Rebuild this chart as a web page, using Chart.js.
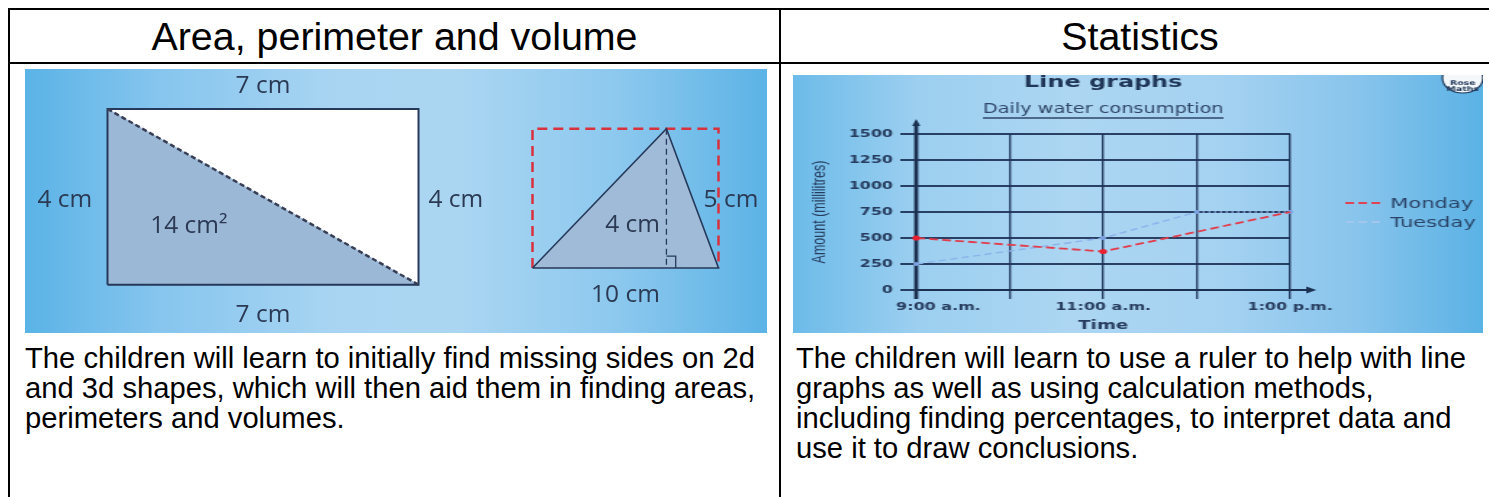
<!DOCTYPE html>
<html>
<head>
  <title>Area, perimeter and volume / Statistics</title>
  <meta charset="UTF-8">
  <script src="https://cdn.jsdelivr.net/npm/chart.js"></script>
  <style>
    body {
      margin: 0;
      width: 1489px;
      height: 497px;
      overflow: hidden;
      position: relative;
      background: #fff;
      font-family: "Liberation Sans", Arial, sans-serif;
      color: #000;
    }
    .rule { position: absolute; background: #000; }
    .head {
      position: absolute;
      top: 10px;
      height: 52px;
      line-height: 52px;
      font-size: 39.4px;
      text-align: center;
      white-space: nowrap;
    }
    .text {
      position: absolute;
      top: 342.5px;
      font-size: 29.2px;
      line-height: 30px;
      white-space: nowrap;
    }
    #pic1 {
      position: absolute; left: 25px; top: 69px; width: 742px; height: 264px;
      background: linear-gradient(90deg, #5ab3e6 0%, #86c5ee 18%, #a9d5f2 42%, #abd6f2 58%, #8cc8ee 80%, #5cb3e6 100%);
    }
    #pic2 {
      position: absolute; left: 793px; top: 75px; width: 690px; height: 258px;
      background: linear-gradient(90deg, #6cbbe9 0%, #9ccff0 18%, #acd6f2 40%, #a5d2f1 62%, #88c4ec 82%, #5ab2e5 100%);
    }
  </style>
</head>
<body>

  <div class="rule" style="left:8px;top:8px;width:1481px;height:2px"></div>
  <div class="rule" style="left:8px;top:62px;width:1481px;height:2px"></div>
  <div class="rule" style="left:8px;top:8px;width:2px;height:489px"></div>
  <div class="rule" style="left:779px;top:8px;width:2px;height:489px"></div>

  <div class="head" style="left:10px;width:769px">Area, perimeter and volume</div>
  <div class="head" style="left:781px;width:718px">Statistics</div>

  <div id="pic1"><canvas id="shapes" width="742" height="264" style="width:742px;height:264px"></canvas></div>
  <div id="pic2"><canvas id="grafik" width="476" height="258" style="width:690px;height:258px"></canvas></div>

  <div class="text" style="left:25px">The children will learn to initially find missing sides on 2d<br>and 3d shapes, which will then aid them in finding areas,<br>perimeters and volumes.</div>
  <div class="text" style="left:796px">The children will learn to use a ruler to help with line<br>graphs as well as using calculation methods,<br>including finding percentages, to interpret data and<br>use it to draw conclusions.</div>

  <script>
    // line graph: daily water consumption (ml)
    const times = ['9:00 a.m.', '10:00 a.m.', '11:00 a.m.', '12:00 p.m.', '1:00 p.m.'];
    const timeTicks = ['9:00 a.m.', '', '11:00 a.m.', '', '1:00 p.m.'];
    const monday = [500, null, 370, null, 750];
    const tuesday = [250, null, 500, 750, 750];
    const amountTicks = [0, 250, 500, 750, 1000, 1250, 1500];

    // shapes, sizes in cm
    const rectSides = [7, 4];       // width, height
    const triSides = [10, 4];       // base, height
    const apexAt = 7.2;             // foot of the height, from the left corner
    const rectLabels = ['7 cm', '7 cm', '4 cm', '4 cm', '14 cm²'];
    const triLabels = ['10 cm', '4 cm', '5 cm'];

    const navy = '#26395a';
    const ink = '#273c5e';

    // ---------- shapes picture ----------
    const W1 = 742, H1 = 264;
    // put value 0 at a given pixel, with a given number of px per cm
    const placeX = (origin, ppc) => ({ min: -origin / ppc, max: (W1 - origin) / ppc });
    const placeY = (origin, ppc) => ({ min: (origin - H1) / ppc, max: origin / ppc });

    const [rw, rh] = rectSides;
    const [tb, th] = triSides;
    const pts = arr => arr.map(p => ({ x: p[0], y: p[1] }));
    const onRect = { xAxisID: 'xr', yAxisID: 'yr', showLine: true };
    const onTri = { xAxisID: 'xt', yAxisID: 'yt', showLine: true };

    const shapeLabels = {
      id: 'shapeLabels',
      afterDatasetsDraw(chart) {
        const { ctx, scales } = chart;
        const spots = [
          [rectLabels[0], 'r', rw / 2, rh + 0.52],
          [rectLabels[1], 'r', rw / 2, -0.69],
          [rectLabels[2], 'r', -0.96, rh / 2 - 0.07],
          [rectLabels[3], 'r', rw + 0.84, rh / 2 - 0.07],
          [rectLabels[4], 'r', 1.83, 1.33],
          [triLabels[0], 't', tb / 2, -0.77],
          [triLabels[1], 't', apexAt - 1.82, 1.24],
          [triLabels[2], 't', tb + 0.67, th / 2 - 0.04]
        ];
        ctx.save();
        ctx.font = '24.5px "Open Sans"';
        ctx.fillStyle = '#2b3953';
        ctx.textAlign = 'center';
        ctx.textBaseline = 'middle';
        spots.forEach(s => {
          const x = scales['x' + s[1]].getPixelForValue(s[2]);
          const y = scales['y' + s[1]].getPixelForValue(s[3]);
          ctx.fillText(s[0], x, y);
        });
        ctx.restore();
      }
    };

    new Chart(document.getElementById('shapes'), {
      type: 'scatter',
      data: {
        datasets: [
          { ...onRect, data: pts([[0, rh], [rw, 0]]), borderColor: '#383f55', borderWidth: 2.5, borderDash: [5, 3], order: 0 },
          { ...onRect, data: pts([[0, 0], [rw, 0], [rw, rh], [0, rh], [0, 0]]), borderColor: navy, borderWidth: 2, order: 1 },
          { ...onRect, data: pts([[0, rh], [0, 0], [rw, 0], [0, rh]]), fill: 'shape', backgroundColor: '#9cb8d7', borderColor: '#9cb8d7', borderWidth: 1, order: 3 },
          { ...onRect, data: pts([[0, rh], [rw, rh], [rw, 0], [0, rh]]), fill: 'shape', backgroundColor: '#ffffff', borderColor: '#ffffff', borderWidth: 1, order: 3 },

          { ...onTri, data: pts([[apexAt, th], [apexAt, 0]]), borderColor: navy, borderWidth: 1.3, borderDash: [6, 4], order: 0 },
          { ...onTri, data: pts([[apexAt, 0.34], [apexAt + 0.5, 0.34], [apexAt + 0.5, 0]]), borderColor: navy, borderWidth: 1.3, order: 0 },
          { ...onTri, data: pts([[0, 0], [apexAt, th], [tb, 0], [0, 0]]), fill: 'shape', backgroundColor: '#a0bbd8', borderColor: navy, borderWidth: 1.6, order: 1 },
          { ...onTri, data: pts([[0, 0], [0, th], [tb, th], [tb, 0]]), borderColor: '#d8323f', borderWidth: 2.5, borderDash: [10, 6], order: 2 }
        ]
      },
      options: {
        responsive: false,
        animation: false,
        events: [],
        layout: { padding: 0 },
        elements: { point: { radius: 0 } },
        plugins: { legend: { display: false }, tooltip: { enabled: false } },
        scales: {
          xr: { type: 'linear', position: 'bottom', display: false, ...placeX(82.5, 44.43) },
          yr: { type: 'linear', position: 'left', display: false, ...placeY(215.7, 43.93) },
          xt: { type: 'linear', position: 'bottom', display: false, ...placeX(507.5, 18.6) },
          yt: { type: 'linear', position: 'left', display: false, ...placeY(199, 34.8) }
        }
      },
      plugins: [shapeLabels]
    });

    // ---------- line graph picture (drawn narrow, shown stretched) ----------
    const gridNavy = 'rgba(28, 48, 84, 0.9)';

    const graphDecor = {
      id: 'graphDecor',
      beforeDatasetsDraw(chart) {
        const { ctx, chartArea: a } = chart;
        ctx.save();
        ctx.strokeStyle = ctx.fillStyle = '#1c3052';
        // y axis with arrow
        ctx.lineWidth = 2.8;
        ctx.beginPath();
        ctx.moveTo(a.left, a.bottom + 9);
        ctx.lineTo(a.left, a.top - 9);
        ctx.stroke();
        ctx.beginPath();
        ctx.moveTo(a.left, a.top - 15);
        ctx.lineTo(a.left - 2.8, a.top - 8);
        ctx.lineTo(a.left + 2.8, a.top - 8);
        ctx.fill();
        // x axis with arrow
        ctx.lineWidth = 2;
        ctx.beginPath();
        ctx.moveTo(a.left, a.bottom);
        ctx.lineTo(a.right + 12, a.bottom);
        ctx.stroke();
        ctx.beginPath();
        ctx.moveTo(a.right + 18, a.bottom);
        ctx.lineTo(a.right + 11, a.bottom - 3.5);
        ctx.lineTo(a.right + 11, a.bottom + 3.5);
        ctx.fill();
        ctx.restore();
      },
      afterDraw(chart) {
        const { ctx, chartArea: a } = chart;
        const mid = (a.left + a.right) / 2;
        ctx.save();
        ctx.textAlign = 'center';
        ctx.textBaseline = 'middle';
        ctx.fillStyle = '#1f3658';
        ctx.font = 'bold 16.5px "DejaVu Sans"';
        ctx.fillText('Line graphs', mid, 8);
        ctx.fillStyle = '#2f4668';
        ctx.font = '13.3px "DejaVu Sans"';
        ctx.fillText('Daily water consumption', mid, 35);
        const w = ctx.measureText('Daily water consumption').width;
        ctx.strokeStyle = '#2f4668';
        ctx.lineWidth = 1.5;
        ctx.beginPath();
        ctx.moveTo(mid - w / 2, 43);
        ctx.lineTo(mid + w / 2, 43);
        ctx.stroke();

        // legend
        ctx.textAlign = 'left';
        ctx.font = '14.5px "DejaVu Sans"';
        chart.data.datasets.forEach((ds, i) => {
          const y = a.top + 69 + i * 19;
          ctx.strokeStyle = i === 0 ? '#e04452' : '#a3c6ec';
          ctx.lineWidth = 1.8;
          ctx.setLineDash([6, 3]);
          ctx.beginPath();
          ctx.moveTo(a.right + 38, y);
          ctx.lineTo(a.right + 63, y);
          ctx.stroke();
          ctx.setLineDash([]);
          ctx.fillStyle = '#2b4467';
          ctx.fillText(ds.label, a.right + 69, y + 1);
        });

        // logo in the corner
        ctx.fillStyle = '#f4f8fb';
        ctx.strokeStyle = '#1f3658';
        ctx.lineWidth = 1.2;
        ctx.beginPath();
        ctx.ellipse(462, 3, 14, 15, 0, 0, Math.PI * 2);
        ctx.fill();
        ctx.stroke();
        ctx.fillStyle = '#1f3658';
        ctx.textAlign = 'center';
        ctx.font = 'bold 6.5px "DejaVu Sans"';
        ctx.fillText('Rose', 462, 8);
        ctx.fillText('Maths', 462, 14.5);
        ctx.restore();
      }
    };

    new Chart(document.getElementById('grafik'), {
      type: 'line',
      data: {
        labels: times,
        datasets: [
          {
            label: 'Monday',
            data: monday,
            spanGaps: true,
            clip: false,
            borderColor: '#e23c4b',
            borderWidth: 1.8,
            borderDash: [6, 3],
            pointRadius: ctx => ctx.dataIndex === monday.length - 1 ? 0 : 2.6,
            pointBorderWidth: 0,
            pointBackgroundColor: '#e8202f'
          },
          {
            label: 'Tuesday',
            data: tuesday,
            spanGaps: true,
            clip: false,
            borderColor: '#8cb3ea',
            borderWidth: 1.4,
            borderDash: [5, 3],
            segment: { borderDash: ctx => ctx.p0DataIndex === 3 ? [1.5, 2.5] : undefined },
            pointRadius: 2,
            pointBorderWidth: 0,
            pointBackgroundColor: '#7ca2e2'
          }
        ]
      },
      options: {
        responsive: false,
        animation: false,
        events: [],
        layout: { padding: { top: 59, right: 133, left: 0, bottom: 0 } },
        font: { family: '"DejaVu Sans"' },
        plugins: { legend: { display: false }, tooltip: { enabled: false } },
        scales: {
          x: {
            grid: { color: gridNavy, lineWidth: 1.4, tickLength: 9 },
            border: { display: false },
            ticks: {
              autoSkip: false, maxRotation: 0, minRotation: 0, padding: 2,
              color: ink, font: { family: '"DejaVu Sans"', size: 11, weight: 'bold' },
              callback: (v, i) => i === 0 ? '\u2007\u2007\u2007\u2007' + timeTicks[i] : timeTicks[i]
            },
            title: {
              display: true, text: 'Time', color: ink,
              font: { family: '"DejaVu Sans"', size: 12.5, weight: 'bold' }, padding: { top: 0, bottom: 0 }
            },
            afterFit: s => { s.height = 43; }
          },
          y: {
            min: amountTicks[0],
            max: amountTicks[amountTicks.length - 1],
            grid: { color: gridNavy, lineWidth: 2, tickLength: 11 },
            border: { display: false },
            ticks: {
              stepSize: amountTicks[1] - amountTicks[0], padding: 5,
              color: ink, font: { family: '"DejaVu Sans"', size: 11, weight: 'bold' },
              callback: v => String(v)
            },
            title: {
              display: true, text: 'Amount (millilitres)', color: ink,
              font: { family: '"Liberation Sans"', size: 12.5 }, padding: { top: 11, bottom: 0 }
            },
            afterFit: s => { s.width = 85; }
          }
        }
      },
      plugins: [graphDecor]
    });
  </script>

</body>
</html>
